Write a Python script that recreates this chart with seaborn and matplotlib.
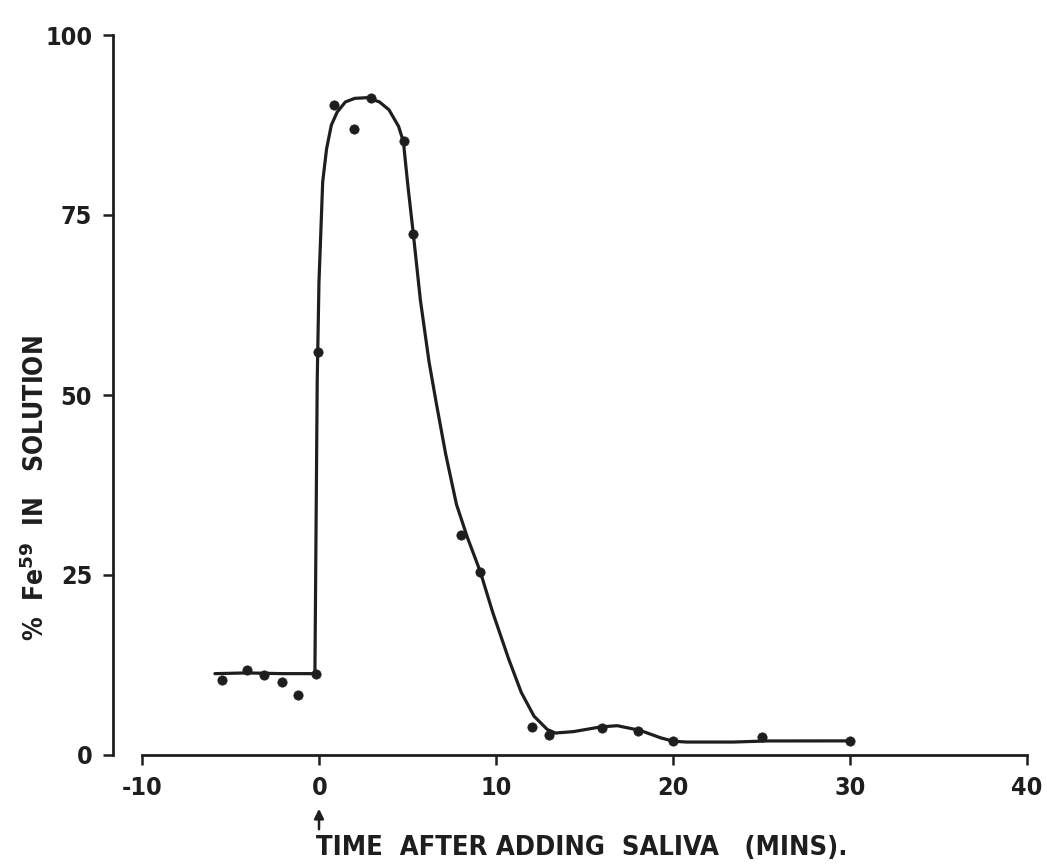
import matplotlib
matplotlib.use("Agg")
import matplotlib.pyplot as plt
import seaborn as sns
import pandas as pd

# ---- data ----
point_time = [-5.5, -4.1, -3.1, -2.1, -1.2, -0.16, -0.09, 0.85, 1.95, 2.9, 4.8, 5.3,
              8.0, 9.1, 12.0, 13.0, 16.0, 18.0, 20.0, 25.0, 30.0]
point_pct = [10.4, 11.75, 11.15, 10.1, 8.4, 11.3, 56.0, 90.3, 86.9, 91.2, 85.3, 72.4,
             30.5, 25.4, 3.9, 2.8, 3.7, 3.3, 2.0, 2.5, 2.0]

curve_time = [-5.9, -4.1, -2.1, -0.25, -0.12, -0.02, 0.19, 0.41, 0.68, 1.01, 1.47, 2.0,
              2.72, 3.4, 3.94, 4.48, 4.75, 4.99, 5.31, 5.71, 6.2, 6.63, 7.14, 7.75,
              8.37, 9.09, 9.8, 10.69, 11.41, 12.13, 12.88, 13.34, 14.37, 15.89, 16.84,
              18.15, 19.27, 20.02, 20.77, 23.4, 25.3, 30.0]
curve_pct = [11.3, 11.4, 11.3, 11.3, 51.9, 65.7, 79.6, 84.2, 87.5, 89.3, 90.7, 91.2,
             91.3, 90.7, 89.6, 87.3, 85.2, 79.4, 72.4, 63.2, 54.6, 48.6, 41.8, 34.8,
             30.2, 25.5, 19.8, 13.4, 8.7, 5.4, 3.55, 3.05, 3.25, 3.9, 4.07,
             3.4, 2.4, 1.9, 1.8, 1.8, 1.95, 1.96]

x_ticks = [-10, 0, 10, 20, 30, 40]
x_tick_labels = ["-10", "0", "10", "20", "30", "40"]
y_ticks = [0, 25, 50, 75, 100]
y_tick_labels = ["0", "25", "50", "75", "100"]
x_label = "TIME  AFTER ADDING  SALIVA   (MINS)."
y_label = "%  Fe$^{\\mathbf{59}}$  IN   SOLUTION"

points = pd.DataFrame({"time": point_time, "pct": point_pct})
curve = pd.DataFrame({"time": curve_time, "pct": curve_pct})

sns.set_theme(style="ticks")
plt.rcParams["font.family"] = ["DejaVu Sans"]
ink = "#1e1e1e"

fig = plt.figure(figsize=(10.47, 8.68), dpi=100)
ax = fig.add_axes([113 / 1047, 1 - 755 / 868, 923 / 1047, 720 / 868])

sns.lineplot(data=curve, x="time", y="pct", sort=False, estimator=None,
             color=ink, linewidth=2.3, ax=ax)
sns.scatterplot(data=points, x="time", y="pct", color=ink, s=45,
                edgecolor=ink, linewidth=0.5, ax=ax, clip_on=False, zorder=3)

ax.set_xlim(-11.66, 40.5)
ax.set_ylim(0, 100)
ax.spines["top"].set_visible(False)
ax.spines["right"].set_visible(False)
ax.spines["left"].set_bounds(0, 100)
ax.spines["bottom"].set_bounds(-10, 40)
for sp in ("left", "bottom"):
    ax.spines[sp].set_linewidth(2.0)
    ax.spines[sp].set_color(ink)

ax.set_xticks(x_ticks)
ax.set_xticklabels(x_tick_labels)
ax.set_yticks(y_ticks)
ax.set_yticklabels(y_tick_labels)
ax.tick_params(axis="both", direction="out", length=7, width=1.8, color=ink,
               labelsize=18, labelcolor=ink, pad=8)
for lab in ax.get_xticklabels() + ax.get_yticklabels():
    lab.set_fontweight("bold")
    lab.set_fontstretch("condensed")
ax.set_xlabel("")
ax.set_ylabel("")

fig.text(36 / 1047, 1 - 488 / 868, y_label, rotation=90, ha="center", va="center",
         fontsize=19, fontweight="bold", fontstretch="condensed", color=ink)
fig.text(316 / 1047, 1 - 848 / 868, x_label, ha="left", va="center",
         fontsize=19.5, fontweight="bold", fontstretch="condensed", color=ink)
fig.add_artist(matplotlib.patches.FancyArrowPatch(
    (319 / 1047, 1 - 832 / 868), (319 / 1047, 1 - 806 / 868),
    transform=fig.transFigure, arrowstyle="-|>", mutation_scale=14,
    color=ink, linewidth=1.8))

fig.savefig("out.png", dpi=100, facecolor="white")
